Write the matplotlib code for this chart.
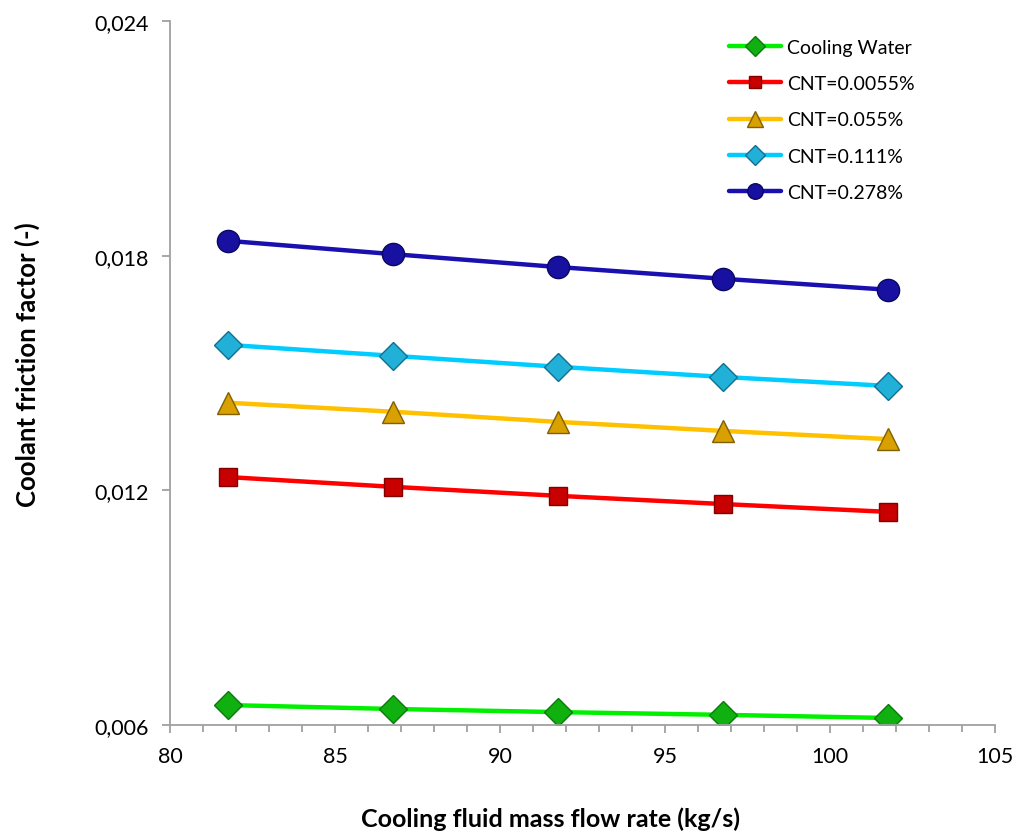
import matplotlib
matplotlib.use("Agg")
import matplotlib.pyplot as plt
from matplotlib.ticker import FixedLocator, MultipleLocator, FuncFormatter

plt.rcParams['font.family'] = ['Lato', 'DejaVu Sans']

flow_rate = [81.75, 86.75, 91.75, 96.75, 101.75]
series_names = ["Cooling Water", "CNT=0.0055%", "CNT=0.055%", "CNT=0.111%", "CNT=0.278%"]
cooling_water = [0.00651, 0.00641, 0.00633, 0.00626, 0.00618]
cnt_00055 = [0.01234, 0.01209, 0.01186, 0.01165, 0.01145]
cnt_0055 = [0.01424, 0.01401, 0.01375, 0.01352, 0.01331]
cnt_0111 = [0.01572, 0.01544, 0.01516, 0.01490, 0.01467]
cnt_0278 = [0.01838, 0.01804, 0.01771, 0.01741, 0.01713]
y_ticks = [0.006, 0.012, 0.018, 0.024]
x_ticks = [80, 85, 90, 95, 100, 105]

styles = [
    dict(color="#00F000", marker="D", mfc="#10B010", mec="#0A7A0A", ms=14),
    dict(color="#FF0000", marker="s", mfc="#C80000", mec="#800000", ms=13),
    dict(color="#FFC000", marker="^", mfc="#D8A000", mec="#806000", ms=16),
    dict(color="#00CCFF", marker="D", mfc="#20B0D8", mec="#107090", ms=14),
    dict(color="#1A10B0", marker="o", mfc="#1810A0", mec="#0A0860", ms=16),
]
data = [cooling_water, cnt_00055, cnt_0055, cnt_0111, cnt_0278]

fig = plt.figure(figsize=(10.18, 8.37), dpi=100)
ax = fig.add_axes([0.167, 0.1326, 0.8104, 0.8411])

for name, vals, st in zip(series_names, data, styles):
    ax.plot(flow_rate, vals, color=st["color"], lw=3.2, marker=st["marker"],
            markerfacecolor=st["mfc"], markeredgecolor=st["mec"], markeredgewidth=1.0,
            markersize=st["ms"], label=name, solid_capstyle="round")

ax.set_xlim(80, 105)
ax.set_ylim(0.006, 0.024)
ax.xaxis.set_major_locator(FixedLocator(x_ticks))
ax.xaxis.set_minor_locator(MultipleLocator(1))
ax.yaxis.set_major_locator(FixedLocator(y_ticks))
ax.yaxis.set_major_formatter(FuncFormatter(lambda v, p: f"{v:.3f}".replace(".", ",")))

for s in ["top", "right"]:
    ax.spines[s].set_visible(False)
for s in ["left", "bottom"]:
    ax.spines[s].set_color("#A0A0A0")
    ax.spines[s].set_linewidth(1.3)

ax.tick_params(axis="both", which="both", direction="out", color="#A0A0A0", width=1.3, labelsize=15.5)
ax.tick_params(axis="both", which="major", length=6, pad=9)
ax.tick_params(axis="x", which="minor", length=5)

ax.set_xlabel("Cooling fluid mass flow rate (kg/s)", fontsize=18, fontweight="bold")
ax.set_ylabel("Coolant friction factor (-)", fontsize=18.5, fontweight="bold")
ax.xaxis.set_label_coords(0.461, -0.116)
ax.yaxis.set_label_coords(-0.158, 0.513)

leg = ax.legend(loc="upper right", bbox_to_anchor=(0.924, 1.0), frameon=False, fontsize=14,
                markerscale=0.7, handlelength=2.7, labelspacing=1.0, handletextpad=0.3)

fig.savefig("out.png", dpi=100)
